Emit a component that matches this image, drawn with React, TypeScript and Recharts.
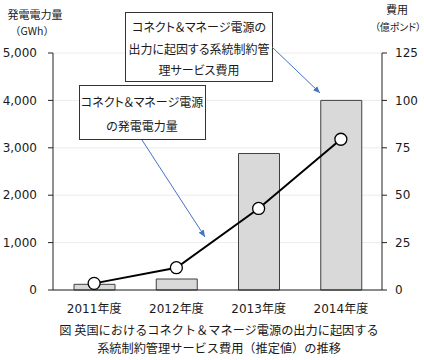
import { ComposedChart, Bar, Line, XAxis, YAxis, CartesianGrid } from "recharts";

const years = ["2011年度", "2012年度", "2013年度", "2014年度"];
// 系統制約管理サービス費用（億ポンド） - bars, right axis
const costs = [3, 5.8, 72, 100];
// コネクト＆マネージ電源の発電電力量（GWh） - line, left axis
const generation = [140, 470, 1720, 3180];

const leftTicks = [0, 1000, 2000, 3000, 4000, 5000];
const rightTicks = [0, 25, 50, 75, 100, 125];

const numFont = "'DejaVu Sans', 'Noto Sans CJK JP', sans-serif";
const jpFont = "'Noto Sans CJK JP', sans-serif";

const chartData = years.map((y, i) => ({ year: y, cost: costs[i], gen: generation[i] }));

function Dot(props: any) {
  const { cx, cy } = props;
  return <circle cx={cx} cy={cy} r={6} fill="#fff" stroke="#000" strokeWidth={1.3} />;
}

function Notes() {
  const jp = { fontFamily: jpFont, fontFeatureSettings: '"palt"', fill: "#1a1a1a" } as any;
  const jpWide = { fontFamily: jpFont, fill: "#1a1a1a" } as any;
  return (
    <svg
      width={424}
      height={360}
      style={{ position: "absolute", left: 0, top: 0, pointerEvents: "none" }}
    >
      <defs>
        <marker id="ah" markerWidth="8" markerHeight="8" refX="7" refY="4" orient="auto" markerUnits="userSpaceOnUse">
          <path d="M0,1 L7,4 L0,7 z" fill="#4472c4" />
        </marker>
      </defs>
      {/* axis titles */}
      <text x={35} y={19} textAnchor="middle" fontSize={11} style={jp}>発電電力量</text>
      <text x={32} y={35} textAnchor="middle" fontSize={10.5} style={jpWide}>（GWh）</text>
      <text x={397} y={14} textAnchor="middle" fontSize={11} style={jp}>費用</text>
      <text x={398} y={31} textAnchor="middle" fontSize={10} style={jp}>（億ポンド）</text>

      {/* callout: cost */}
      <rect x={125.5} y={12.5} width={147} height={69} fill="#fff" stroke="#333" strokeWidth={1} />
      <text x={199} y={32} textAnchor="middle" fontSize={12} style={jp}>コネクト＆マネージ電源の</text>
      <text x={199} y={54} textAnchor="middle" fontSize={12} style={jp}>出力に起因する系統制約管</text>
      <text x={199} y={75} textAnchor="middle" fontSize={12} style={jp}>理サービス費用</text>
      <line x1={272} y1={47} x2={320} y2={93} stroke="#4472c4" strokeWidth={1} markerEnd="url(#ah)" />

      {/* callout: generation */}
      <rect x={79.5} y={85.5} width={126} height={54} fill="#fff" stroke="#333" strokeWidth={1} />
      <text x={142} y={107} textAnchor="middle" fontSize={12} style={jp}>コネクト＆マネージ電源</text>
      <text x={142} y={131} textAnchor="middle" fontSize={12} style={jp}>の発電電力量</text>
      <line x1={142} y1={140} x2={205} y2={237} stroke="#4472c4" strokeWidth={1} markerEnd="url(#ah)" />

      {/* caption */}
      <text x={219} y={335} textAnchor="middle" fontSize={12.2} style={jpWide}>図 英国におけるコネクト＆マネージ電源の出力に起因する</text>
      <text x={219} y={353} textAnchor="middle" fontSize={12.2} style={jpWide}>系統制約管理サービス費用（推定値）の推移</text>
    </svg>
  );
}

export default function App() {
  return (
    <div style={{ position: "absolute", left: 0, top: 0, width: 424, height: 360, background: "#fff" }}>
      <ComposedChart
        width={424}
        height={360}
        data={chartData}
        margin={{ top: 53, right: 0, left: 0, bottom: 40 }}
      >
        <CartesianGrid yAxisId="left" vertical={false} stroke="#ececec" />
        <XAxis
          dataKey="year"
          height={30}
          tickLine={false}
          axisLine={{ stroke: "#222" }}
          tick={{ fontSize: 12, fill: "#1a1a1a", fontFamily: numFont }}
          tickMargin={8}
        />
        <YAxis
          yAxisId="left"
          width={53}
          domain={[0, 5000]}
          ticks={leftTicks}
          tickFormatter={(v: number) => v.toLocaleString("en-US")}
          axisLine={{ stroke: "#222" }}
          tickLine={{ stroke: "#222" }}
          tickSize={5}
          tickMargin={11}
          tick={{ fontSize: 12, fill: "#1a1a1a", fontFamily: numFont }}
        />
        <YAxis
          yAxisId="right"
          orientation="right"
          width={42}
          domain={[0, 125]}
          ticks={rightTicks}
          axisLine={{ stroke: "#222" }}
          tickLine={{ stroke: "#222" }}
          tickSize={5}
          tickMargin={8}
          tick={{ fontSize: 12, fill: "#1a1a1a", fontFamily: numFont }}
        />
        <Bar
          yAxisId="right"
          dataKey="cost"
          barSize={41}
          fill="#d9d9d9"
          stroke="#404040"
          strokeWidth={1}
          isAnimationActive={false}
        />
        <Line
          yAxisId="left"
          dataKey="gen"
          type="linear"
          stroke="#000"
          strokeWidth={2}
          dot={<Dot />}
          isAnimationActive={false}
        />
      </ComposedChart>
      <Notes />
    </div>
  );
}
